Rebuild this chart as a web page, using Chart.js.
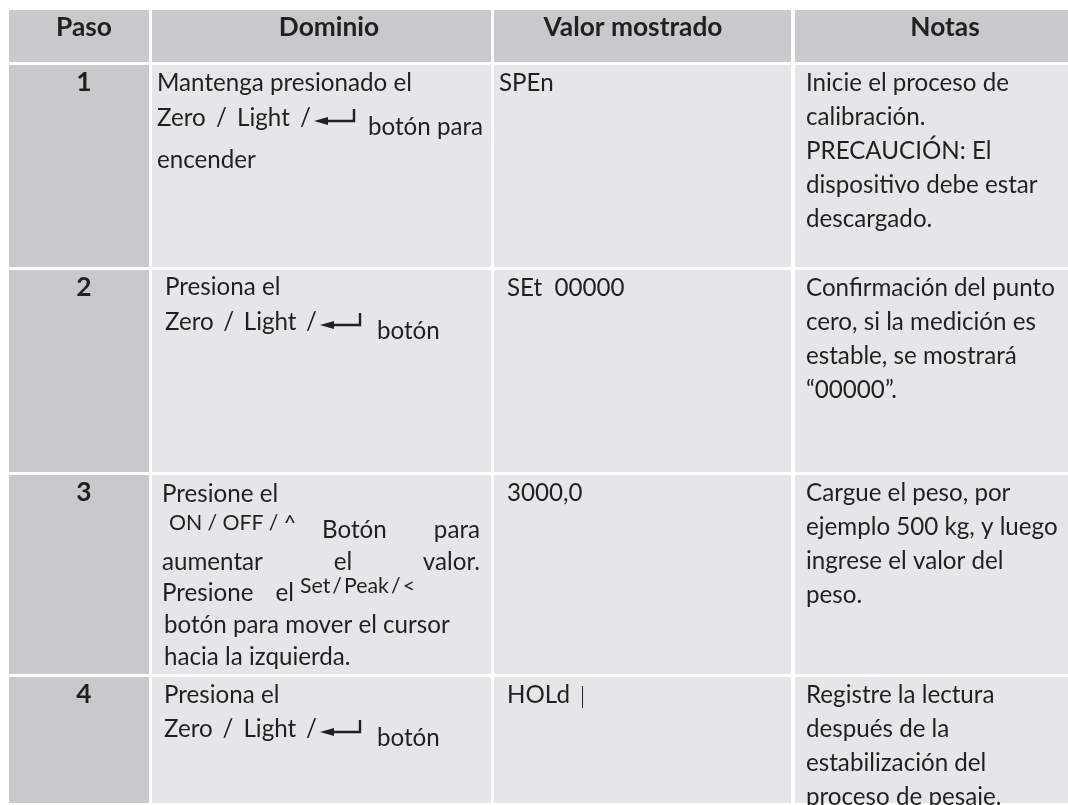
<!DOCTYPE html>
<html lang="es">
<head>
<meta charset="utf-8">
<title>Calibración - pasos</title>
<script src="https://cdn.jsdelivr.net/npm/chart.js@4.4.1/dist/chart.umd.min.js"></script>
<style>
  html, body { margin: 0; padding: 0; background: #ffffff; }
  #wrap { width: 1068px; height: 805px; }
</style>
</head>
<body>
<div id="wrap"><canvas id="stepsTable" width="1068" height="805"></canvas></div>
<script>
// Table content
const headers = ['Paso', 'Dominio', 'Valor mostrado', 'Notas'];
const steps = ['1', '2', '3', '4'];
// [..] marks the key label printed on the device, ↵ is the enter arrow
const domainLines = [
  ['Mantenga presionado el', '[Zero / Light / ↵] botón para', 'encender'],
  ['Presiona el', '[Zero / Light / ↵] botón'],
  ['Presione el', '[ON / OFF / ^] Botón para', 'aumentar el valor.', 'Presione el [Set / Peak / <]',
   'botón para mover el cursor', 'hacia la izquierda.'],
  ['Presiona el', '[Zero / Light / ↵] botón']
];
const shownValues = ['SPEn', 'SEt  00000', '3000,0', 'HOLd'];
const notes = [
  ['Inicie el proceso de', 'calibración.', 'PRECAUCIÓN: El', 'dispositivo debe estar', 'descargado.'],
  ['Confirmación del punto', 'cero, si la medición es', 'estable, se mostrará', '“00000”.'],
  ['Cargue el peso, por', 'ejemplo 500 kg, y luego', 'ingrese el valor del', 'peso.'],
  ['Registre la lectura', 'después de la', 'estabilización del', 'proceso de pesaje.']
];

// Layout, in page units (mapped through the chart scales)
const FAMILY = 'Lato, "Open Sans", sans-serif';
const TEXT_COLOR = '#231f20';
const HEAD_BG = '#c8c9cb';
const CELL_BG = '#e5e6e8';
const colBounds = [[9, 149], [152, 491], [494, 791], [795, 1100]];
const headerBand = [10, 62];
const rowBands = [[65, 267], [270, 472], [475, 674], [677, 803]];
const headerCenters = [84, 329, 633, 945];
const valueX = [499, 507, 507, 507];
const notesX = 806;
const noteGap = 34;
const firstBase = 25.5;
// y = baseline offset from row top, rise = key label lift, keyTo = right end of the key label
const domainLayout = [
  [{ y: 26, x: 157 }, { y: 70, x: 157, rise: 9, keyTo: 311, arrowX: 314, textX: 368 }, { y: 103, x: 157 }],
  [{ y: 25, x: 165 }, { y: 69, x: 165, rise: 9, keyTo: 317, arrowX: 320, textX: 377 }],
  [{ y: 27, x: 162 }, { y: 63, x: 169, rise: 8, keyTo: 296, textX: 322, to: 480, small: true },
   { y: 95, x: 162, to: 480 }, { y: 126, x: 162, rise: 8, to: 294, keyX: 300, keyTo: 415, small: true },
   { y: 158, x: 164 }, { y: 190, x: 164 }],
  [{ y: 26, x: 164 }, { y: 69, x: 164, rise: 9, keyTo: 317, arrowX: 320, textX: 377 }]
];

function fitSize(ctx, weight, sample, target) {
  ctx.font = weight + ' 100px ' + FAMILY;
  return 100 * target / ctx.measureText(sample).width;
}

const tablePlugin = {
  id: 'stepsTable',
  afterDraw(chart) {
    const { ctx, scales: { x, y } } = chart;
    const px = v => x.getPixelForValue(v);
    const py = v => y.getPixelForValue(v);
    const unit = px(1) - px(0);

    const bodyPx = fitSize(ctx, 'normal', 'Confirmación del punto', 249 * unit);
    const boldPx = fitSize(ctx, 'bold', 'Valor mostrado', 179 * unit);
    const bodyFont = 'normal ' + bodyPx.toFixed(2) + 'px ' + FAMILY;
    const smallFont = 'normal ' + (bodyPx * 0.88).toFixed(2) + 'px ' + FAMILY;
    const boldFont = 'bold ' + boldPx.toFixed(2) + 'px ' + FAMILY;

    const cell = (c, band, color) => {
      ctx.fillStyle = color;
      ctx.fillRect(px(colBounds[c][0]), py(band[0]),
        px(colBounds[c][1]) - px(colBounds[c][0]), py(band[1]) - py(band[0]));
    };
    const text = (str, x0, base, font, align) => {
      ctx.font = font;
      ctx.textAlign = align || 'left';
      ctx.fillStyle = TEXT_COLOR;
      ctx.fillText(str, px(x0), py(base));
      return x0 + ctx.measureText(str).width / unit;
    };
    // justified words between x0 and to (plain left text when no right end)
    const words = (str, x0, to, base, font) => {
      if (to == null) return text(str, x0, base, font);
      ctx.font = font;
      const parts = str.split(/\s+/).filter(Boolean);
      const widths = parts.map(p => ctx.measureText(p).width / unit);
      const gap = parts.length > 1 ? (to - x0 - widths.reduce((a, b) => a + b, 0)) / (parts.length - 1) : 0;
      let cx = x0;
      parts.forEach((p, i) => { text(p, cx, base, font); cx += widths[i] + gap; });
      return to;
    };
    const enterArrow = (ax, base) => {
      const sy = base - 5;
      ctx.fillStyle = TEXT_COLOR;
      ctx.beginPath();
      ctx.moveTo(px(ax), py(sy));
      ctx.lineTo(px(ax + 14), py(sy - 4));
      ctx.lineTo(px(ax + 14), py(sy + 4));
      ctx.closePath();
      ctx.fill();
      ctx.strokeStyle = TEXT_COLOR;
      ctx.lineWidth = 2.4 * unit;
      ctx.beginPath();
      ctx.moveTo(px(ax + 12), py(sy));
      ctx.lineTo(px(ax + 40), py(sy));
      ctx.lineTo(px(ax + 40), py(sy - 12));
      ctx.stroke();
    };
    const keyLabel = (key, x0, to, base, font, arrowX) => {
      const label = key.replace('↵', '').trim();
      let end = words(label, x0, to, base, font);
      if (key.includes('↵')) {
        const ax = arrowX != null ? arrowX : end + 4;
        enterArrow(ax, base);
        end = ax + 40;
      }
      return end;
    };
    const domainLine = (str, spec, top) => {
      const base = top + spec.y;
      const m = str.match(/^(.*?)\[(.*?)\]\s*(.*)$/);
      if (!m) { words(str, spec.x, spec.to, base, bodyFont); return; }
      const before = m[1].trim(), key = m[2], after = m[3];
      const keyFont = spec.small ? smallFont : bodyFont;
      const keyBase = base - (spec.rise || 0);
      if (before) {
        words(before, spec.x, spec.to, base, bodyFont);
        keyLabel(key, spec.keyX, spec.keyTo, keyBase, keyFont);
      } else {
        const end = keyLabel(key, spec.x, spec.keyTo, keyBase, keyFont, spec.arrowX);
        words(after, spec.textX != null ? spec.textX : end + 13, spec.to, base, bodyFont);
      }
    };

    ctx.save();
    ctx.textBaseline = 'alphabetic';

    // header row
    headers.forEach((h, c) => {
      cell(c, headerBand, HEAD_BG);
      text(h, headerCenters[c], headerBand[0] + 26, boldFont, 'center');
    });

    // step rows
    steps.forEach((s, r) => {
      const band = rowBands[r];
      colBounds.forEach((_, c) => cell(c, band, c === 0 ? HEAD_BG : CELL_BG));
      text(s, headerCenters[0], band[0] + firstBase, boldFont, 'center');
      domainLines[r].forEach((line, i) => domainLine(line, domainLayout[r][i], band[0]));
      const valEnd = text(shownValues[r], valueX[r], band[0] + firstBase, bodyFont);
      if (shownValues[r] === 'HOLd') {
        // cursor mark after the reading
        ctx.strokeStyle = TEXT_COLOR;
        ctx.lineWidth = 1;
        ctx.beginPath();
        ctx.moveTo(px(valEnd + 12) + 0.5, py(band[0] + 9));
        ctx.lineTo(px(valEnd + 12) + 0.5, py(band[0] + 31));
        ctx.stroke();
      }
      notes[r].forEach((n, i) => text(n, notesX, band[0] + firstBase + i * noteGap, bodyFont));
    });
    ctx.restore();
  }
};

new Chart(document.getElementById('stepsTable'), {
  type: 'scatter',
  data: { datasets: [] },
  options: {
    responsive: false,
    animation: false,
    events: [],
    layout: { padding: 0 },
    plugins: { legend: { display: false }, tooltip: { enabled: false } },
    scales: {
      x: { type: 'linear', min: 0, max: 1068, display: false },
      y: { type: 'linear', min: 0, max: 805, reverse: true, display: false }
    }
  },
  plugins: [tablePlugin]
});
</script>
</body>
</html>
